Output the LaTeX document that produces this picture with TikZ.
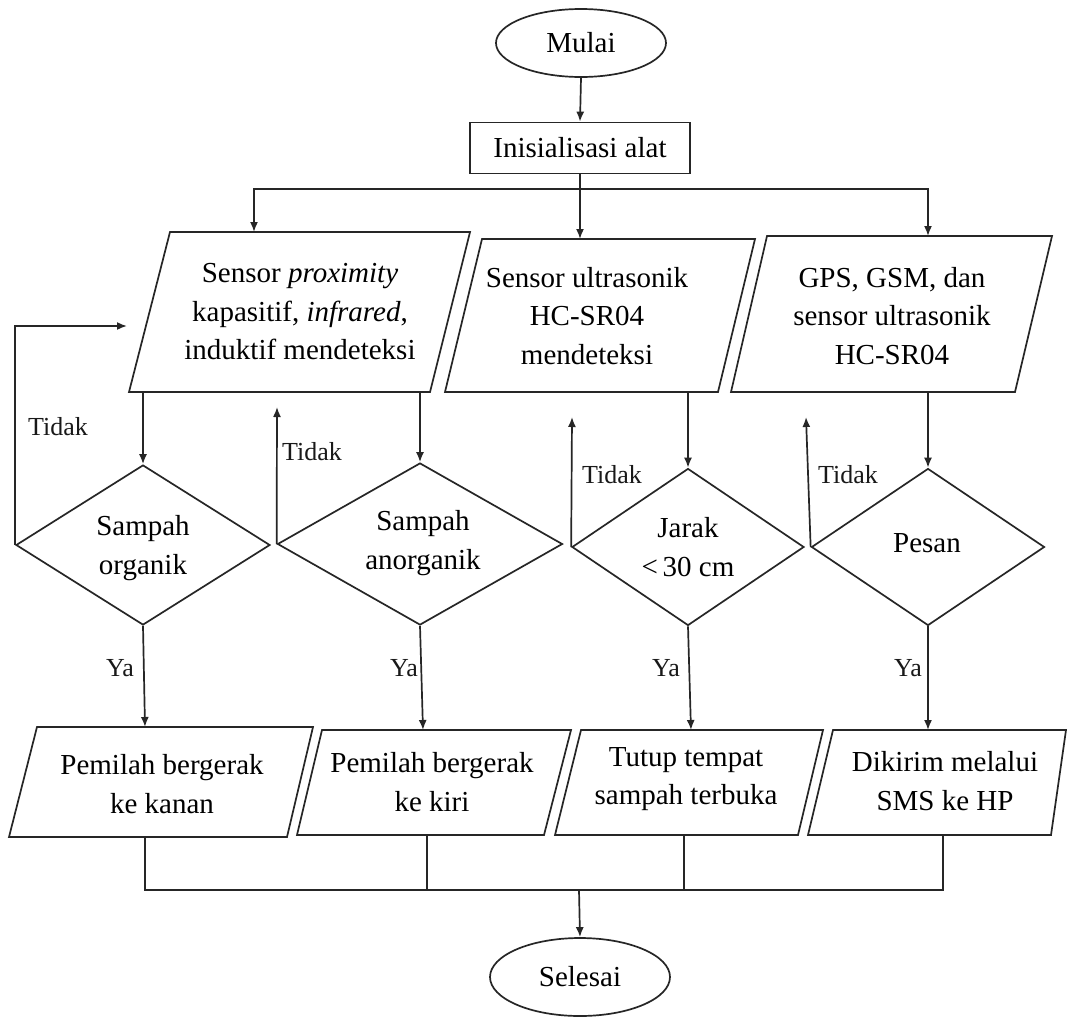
\documentclass[tikz,border=0pt]{standalone}
\usepackage{fontspec}
\setmainfont{Liberation Serif}
\usetikzlibrary{shapes.geometric,arrows.meta}
\begin{document}
\begin{tikzpicture}[x=1pt,y=-1pt,
 ln/.style={line width=1.7pt, draw=black!85},
 arr/.style={ln, -{Latex[length=10pt,width=8pt]}},
 txt/.style={align=center, font=\fontsize{29}{38.5}\selectfont, inner sep=0pt},
 lbl/.style={font=\fontsize{26}{30}\selectfont, inner sep=0pt, text=black!90},
 term/.style={ellipse, ln, fill=white, inner sep=0pt, font=\fontsize{29}{35}\selectfont},
 dec/.style={diamond, ln, inner sep=0pt},
]
\useasboundingbox[fill=white] (0,0) rectangle (1068,1018);

% ---- start / init
\node[term, minimum width=170pt, minimum height=68pt] (mulai) at (581,43) {Mulai};
\node[rectangle, ln, minimum width=220pt, minimum height=51pt, font=\fontsize{29}{35}\selectfont] (init) at (580,148) {Inisialisasi alat};

% ---- input parallelograms
\draw[ln] (129,392) -- (170,232) -- (470,232) -- (430,392) -- cycle;
\node[txt] (tL) at (300,312) {Sensor \textit{proximity}\\kapasitif, \textit{infrared},\\induktif mendeteksi};
\draw[ln] (445,392) -- (482,239) -- (755,239) -- (718,392) -- cycle;
\node[txt] (tM) at (587,316) {Sensor ultrasonik\\HC-SR04\\mendeteksi};
\draw[ln] (731,392) -- (767,236) -- (1052,236) -- (1015,392) -- cycle;
\node[txt] (tR) at (892,316) {GPS, GSM, dan\\sensor ultrasonik\\HC-SR04};

\coordinate (jM) at (580,189);
\coordinate (Ltop) at (254,232);
\coordinate (Mtop) at (580,239);
\coordinate (Rtop) at (928,236);
\coordinate (LbotA) at (143,392);
\coordinate (LbotB) at (420,392);
\coordinate (Mbot) at (688,392);
\coordinate (Rbot) at (928,392);
\coordinate (Lfb) at (127,326);
\coordinate (fb2) at (277,407);
\coordinate (fb3) at (572,417);
\coordinate (fb4) at (806,417);

% ---- decisions
\node[dec, minimum width=254pt, minimum height=160pt] (d1) at (143,545) {};
\node[txt] (td1) at (143,548) {Sampah\\organik};
\node[dec, minimum width=285pt, minimum height=162pt] (d2) at (420,544) {};
\node[txt] (td2) at (423,543) {Sampah\\anorganik};
\node[dec, minimum width=232pt, minimum height=157pt] (d3) at (688,547) {};
\node[txt] (td3) at (688,547) {Jarak\\{<}\,30 cm};
\node[dec, minimum width=233pt, minimum height=157pt] (d4) at (928,547) {};
\node[txt] (td4) at (927,543) {Pesan};

% ---- output parallelograms
\draw[ln] (9,837) -- (37,727) -- (313,727) -- (287,837) -- cycle;
\node[txt] (tP1) at (162,784) {Pemilah bergerak\\ke kanan};
\draw[ln] (297,835) -- (322,730) -- (571,730) -- (544,835) -- cycle;
\node[txt] (tP2) at (432,782) {Pemilah bergerak\\ke kiri};
\draw[ln] (555,835) -- (581,730) -- (823,730) -- (798,835) -- cycle;
\node[txt] (tP3) at (686,779) {Tutup tempat\\sampah terbuka};
\draw[ln] (808,835) -- (833,730) -- (1066,730) -- (1051,835) -- cycle;
\node[txt] (tP4) at (945,781) {Dikirim melalui\\SMS ke HP};

\coordinate (P1top) at (145,727);
\coordinate (P2top) at (423,730);
\coordinate (P3top) at (691,730);
\coordinate (P4top) at (928,730);
\coordinate (P1bot) at (145,837);
\coordinate (P2bot) at (427,835);
\coordinate (P3bot) at (684,835);
\coordinate (P4bot) at (943,835);
\coordinate (jB) at (579,890);

\node[term, minimum width=180pt, minimum height=78pt] (selesai) at (580,977) {Selesai};

% ---- connectors
\draw[arr] (mulai.south) -- (init.north);
\draw[arr] (init.south) -- (Mtop);
\draw[arr] (jM) -| (Ltop);
\draw[arr] (jM) -| (Rtop);

\draw[arr] (LbotA) -- (d1.north);
\draw[arr] (LbotB) -- (d2.north);
\draw[arr] (Mbot) -- (d3.north);
\draw[arr] (Rbot) -- (d4.north);

\draw[arr] (d1.west) |- (Lfb);
\draw[arr] (d2.west) -- (fb2);
\draw[arr] (d3.west) -- (fb3);
\draw[arr] (d4.west) -- (fb4);

\node[lbl] (n1) at (58,427) {Tidak};
\node[lbl] (n2) at (312,452) {Tidak};
\node[lbl] (n3) at (612,475) {Tidak};
\node[lbl] (n4) at (848,475) {Tidak};

\draw[arr] (d1.south) -- (P1top);
\draw[arr] (d2.south) -- (P2top);
\draw[arr] (d3.south) -- (P3top);
\draw[arr] (d4.south) -- (P4top);

\node[lbl] (y1) at (120,668) {Ya};
\node[lbl] (y2) at (404,668) {Ya};
\node[lbl] (y3) at (666,668) {Ya};
\node[lbl] (y4) at (908,668) {Ya};

\draw[ln] (P1bot) |- (jB);
\draw[ln] (P4bot) |- (jB);
\draw[ln] (P2bot) -- (P2bot |- jB);
\draw[ln] (P3bot) -- (P3bot |- jB);
\draw[arr] (jB) -- (selesai.north);
\end{tikzpicture}
\end{document}
